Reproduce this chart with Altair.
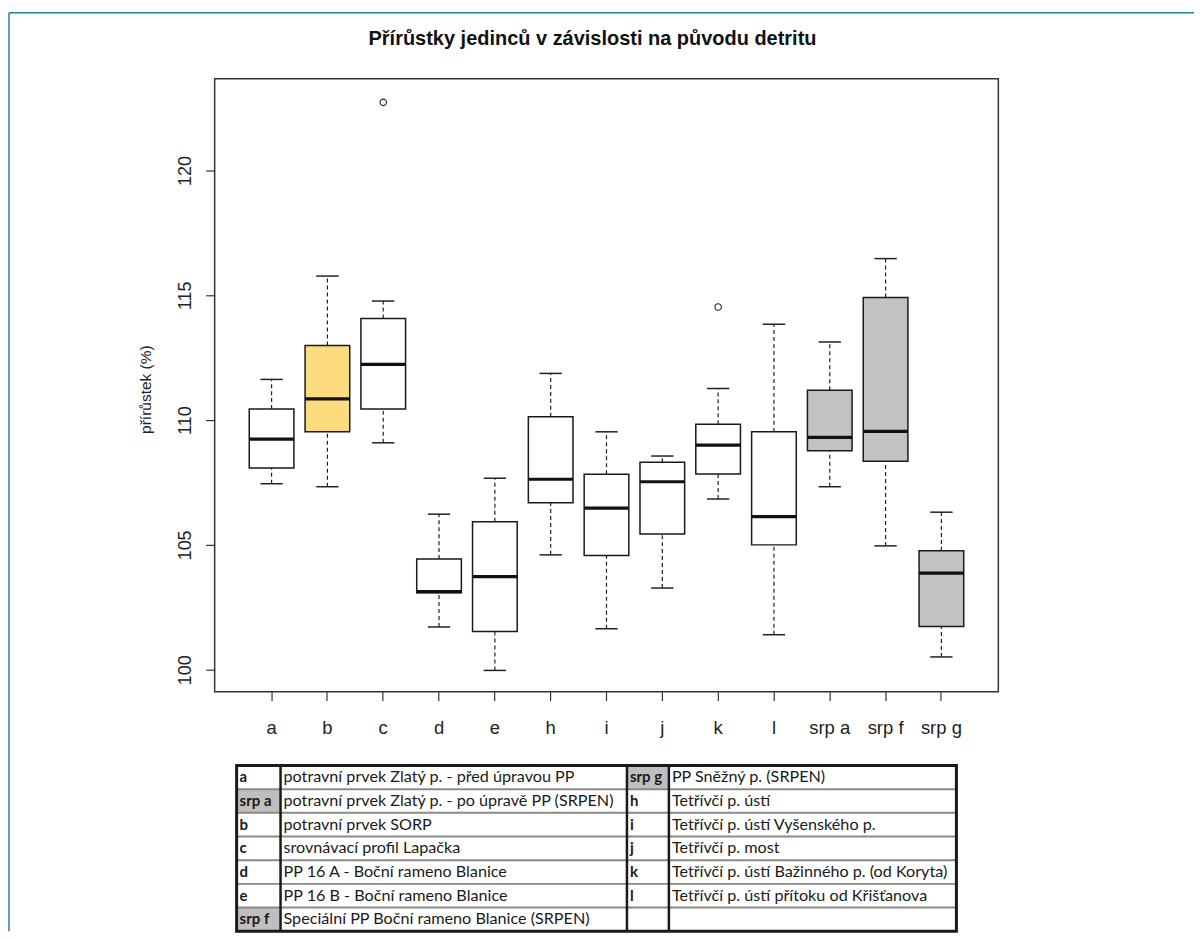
import altair as alt
import pandas as pd

# ---------------- data ----------------
categories = ["a", "b", "c", "d", "e", "h", "i", "j", "k", "l", "srp a", "srp f", "srp g"]
groups = ["plain", "highlight", "plain", "plain", "plain", "plain", "plain", "plain",
          "plain", "plain", "srp", "srp", "srp"]
lower = [107.45, 107.33, 109.09, 101.71, 99.97, 104.60, 101.64, 103.27, 106.84, 101.40, 107.33, 104.96, 100.51]
q1 = [108.08, 109.53, 110.44, 103.08, 101.53, 106.69, 104.57, 105.44, 107.84, 105.00, 108.77, 108.35, 101.73]
median = [109.24, 110.85, 112.23, 103.13, 103.73, 107.63, 106.47, 107.53, 109.00, 106.13, 109.31, 109.55, 103.87]
q3 = [110.44, 112.99, 114.07, 104.43, 105.93, 110.13, 107.83, 108.31, 109.83, 109.53, 111.20, 114.91, 104.76]
upper = [111.63, 115.77, 114.77, 106.23, 107.67, 111.87, 109.53, 108.56, 111.27, 113.84, 113.13, 116.47, 106.31]
outlier_cats = ["c", "k"]
outlier_vals = [122.73, 114.53]
y_ticks = [100, 105, 110, 115, 120]

left_codes = ["a", "srp a", "b", "c", "d", "e", "srp f"]
left_desc = [
    "potravní prvek Zlatý p. - před úpravou PP",
    "\u00a0potravní prvek Zlatý p. - po úpravě PP (SRPEN)",
    "potravní prvek SORP",
    "srovnávací profil Lapačka",
    "\u00a0PP 16 A - Boční rameno Blanice",
    "PP 16 B - Boční rameno Blanice",
    "Speciální PP Boční rameno Blanice (SRPEN)",
]
right_codes = ["srp g", "h", "i", "j", "k", "l", ""]
right_desc = [
    "\u00a0PP Sněžný p. (SRPEN)",
    "Tetřívčí p. ústí",
    "Tetřívčí p. ústí Vyšenského p.",
    "Tetřívčí p. most",
    "Tetřívčí p. ústí Bažinného p. (od Koryta)",
    "Tetřívčí p. ústí přítoku od Křišťanova",
    "",
]
shaded_codes = ["srp a", "srp f", "srp g"]

# ---------------- layout / style ----------------
PLOT_W, PLOT_H = 785, 614
STEP = PLOT_W / 14.04
BOX_W = STEP * 0.8
FONT = "Liberation Sans"
TABLE_FONT = "Lato"
COL_EDGES = [0, 44, 391, 433, 721]
N_ROWS = 7
TABLE_H = 166

box_df = pd.DataFrame({"cat": categories, "group": groups, "lower": lower, "q1": q1,
                       "median": median, "q3": q3, "upper": upper})
out_df = pd.DataFrame({"cat": outlier_cats, "val": outlier_vals})

xscale = alt.Scale(domain=categories, paddingInner=0.2, paddingOuter=0.62)
yscale = alt.Scale(domain=[99.12, 123.68], nice=False, zero=False)

xaxis = alt.Axis(title=None, labelAngle=0, domain=False, grid=False, tickSize=9,
                 tickColor="#333333", tickWidth=1.2, labelFont=FONT, labelFontSize=18.5,
                 labelColor="#222222", labelPadding=18, bandPosition=0.5)
yaxis = alt.Axis(title="přírůstek (%)", values=y_ticks, domain=False, grid=False, tickSize=9,
                 tickColor="#333333", tickWidth=1.2, labelFont=FONT, labelFontSize=18,
                 labelColor="#222222", labelAngle=270, labelAlign="center",
                 labelBaseline="bottom", labelPadding=11, titleFont=FONT, titleFontSize=15.5,
                 titleFontWeight="normal", titleColor="#222222", titleAngle=270,
                 titleAlign="center", titleBaseline="middle", titleX=-69, titleY=311)

X = alt.X("cat:N", scale=xscale, sort=categories, axis=xaxis)


def Y(field):
    return alt.Y(f"{field}:Q", scale=yscale, axis=yaxis)


base = alt.Chart(box_df)
whisk_hi = base.mark_rule(strokeDash=[4, 3], strokeWidth=1.2, color="#222222").encode(
    x=X, y=Y("q3"), y2="upper")
whisk_lo = base.mark_rule(strokeDash=[4, 3], strokeWidth=1.2, color="#222222").encode(
    x=X, y=Y("lower"), y2="q1")
cap_hi = base.mark_tick(size=BOX_W / 2, thickness=1.5, color="#222222", opacity=1).encode(
    x=X, y=Y("upper"))
cap_lo = base.mark_tick(size=BOX_W / 2, thickness=1.5, color="#222222", opacity=1).encode(
    x=X, y=Y("lower"))
boxes = base.mark_bar(stroke="#1a1a1a", strokeWidth=1.5, opacity=1).encode(
    x=X, y=Y("q1"), y2="q3",
    color=alt.Color("group:N", scale=alt.Scale(domain=["plain", "highlight", "srp"],
                                               range=["#ffffff", "#FDDC7E", "#C2C2C2"]),
                    legend=None))
med = base.mark_tick(size=BOX_W, thickness=3.2, color="#111111", opacity=1).encode(
    x=X, y=Y("median"))
outl = alt.Chart(out_df).mark_point(shape="circle", filled=False, size=42, strokeWidth=1.1,
                                    color="#222222", opacity=1).encode(x=X, y=Y("val"))

box_chart = alt.layer(whisk_hi, whisk_lo, cap_hi, cap_lo, boxes, med, outl).properties(
    width=PLOT_W, height=PLOT_H,
    title=alt.TitleParams("Přírůstky jedinců v závislosti na původu detritu", font=FONT,
                          fontSize=20, fontWeight="bold", anchor="middle", frame="group",
                          baseline="alphabetic", offset=14, dx=-14, color="#111111"),
    view=alt.ViewBackground(stroke="#333333", strokeWidth=1.5, fill="white"),
)

# ---------------- table ----------------
cells = []
for i in range(N_ROWS):
    for j, (code, desc) in enumerate([(left_codes[i], left_desc[i]), (right_codes[i], right_desc[i])]):
        cells.append({"row": i, "row_end": i + 1, "mid": i + 0.5,
                      "x0": COL_EDGES[2 * j], "x1": COL_EDGES[2 * j + 1], "text": code,
                      "kind": "code", "shade": code in shaded_codes})
        cells.append({"row": i, "row_end": i + 1, "mid": i + 0.5,
                      "x0": COL_EDGES[2 * j + 1], "x1": COL_EDGES[2 * j + 2], "text": desc,
                      "kind": "desc", "shade": False})
cell_df = pd.DataFrame(cells)

tx = alt.Scale(domain=[-22, COL_EDGES[-1]], nice=False, zero=False)
ty = alt.Scale(domain=[0, N_ROWS], nice=False, zero=False, reverse=True)

tbase = alt.Chart(cell_df)
cell_rect = tbase.mark_rect(opacity=1).encode(
    x=alt.X("x0:Q", scale=tx, axis=None), x2="x1",
    y=alt.Y("row:Q", scale=ty, axis=None), y2="row_end",
    fill=alt.condition(alt.datum.shade, alt.value("#BFBFBF"), alt.value("#ffffff")))
code_text = tbase.transform_filter(alt.datum.kind == "code").mark_text(
    align="left", baseline="middle", dx=3, font=TABLE_FONT, fontSize=15, fontWeight="bold",
    color="#1a1a1a").encode(x=alt.X("x0:Q", scale=tx, axis=None),
                            y=alt.Y("mid:Q", scale=ty, axis=None), text="text:N")
desc_text = tbase.transform_filter(alt.datum.kind == "desc").mark_text(
    align="left", baseline="middle", dx=3, font=TABLE_FONT, fontSize=16.2,
    color="#1a1a1a").encode(x=alt.X("x0:Q", scale=tx, axis=None),
                            y=alt.Y("mid:Q", scale=ty, axis=None), text="text:N")

h_df = pd.DataFrame({"pos": list(range(1, N_ROWS))})
h_lines = alt.Chart(h_df).mark_rule(color="#8a8a8a", strokeWidth=2).encode(
    y=alt.Y("pos:Q", scale=ty, axis=None),
    x=alt.X(datum=COL_EDGES[0], type="quantitative", scale=tx, axis=None),
    x2=alt.datum(COL_EDGES[-1]))
v_df = pd.DataFrame({"pos": COL_EDGES[1:-1]})
v_lines = alt.Chart(v_df).mark_rule(color="#1a1a1a", strokeWidth=2.5).encode(
    x=alt.X("pos:Q", scale=tx, axis=None),
    y=alt.Y(datum=0, type="quantitative", scale=ty, axis=None),
    y2=alt.datum(N_ROWS))
frame_df = pd.DataFrame({"k": [0]})
outer = alt.Chart(frame_df).mark_rect(fill="transparent", stroke="#1a1a1a", strokeWidth=3).encode(
    x=alt.X(datum=COL_EDGES[0], type="quantitative", scale=tx, axis=None),
    x2=alt.datum(COL_EDGES[-1]),
    y=alt.Y(datum=0, type="quantitative", scale=ty, axis=None),
    y2=alt.datum(N_ROWS))

# thin teal page frame (decoration of the source screenshot)
teal_top = alt.Chart(frame_df).mark_rule(color="#1f8596", strokeWidth=1.5).encode(
    x=alt.value(-206), x2=alt.value(981), y=alt.value(-754))
teal_left = alt.Chart(frame_df).mark_rule(color="#1f8596", strokeWidth=1.5).encode(
    x=alt.value(-206), y=alt.value(-754), y2=alt.value(TABLE_H))

table_chart = alt.layer(teal_top, teal_left, cell_rect, h_lines, v_lines, outer,
                        code_text, desc_text).properties(
    width=743, height=TABLE_H,
    view=alt.ViewBackground(strokeWidth=0),
)

chart = alt.vconcat(box_chart, table_chart, spacing=74, bounds="flush").properties(
    padding={"left": 0, "top": 3, "right": 0, "bottom": 0},
    background="white",
).configure_view(strokeWidth=0)

chart.save("out.html", embed_options={"renderer": "svg", "actions": False})
